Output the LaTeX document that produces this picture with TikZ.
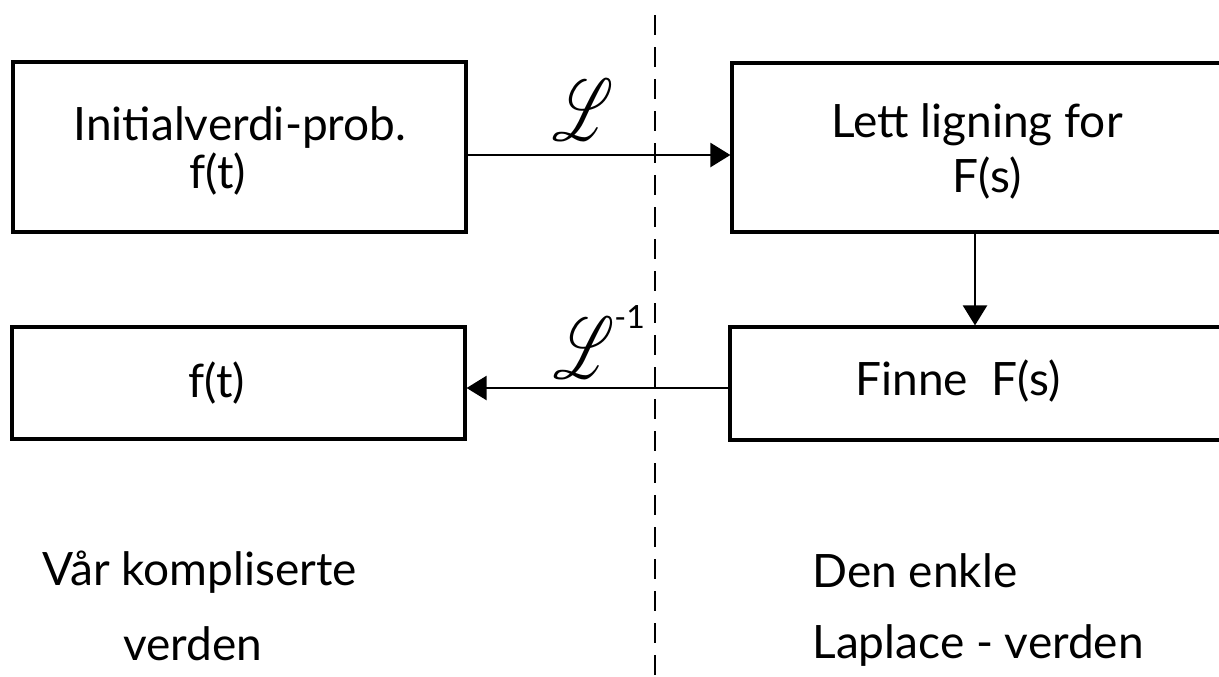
\documentclass[tikz,border=0pt]{standalone}
\usepackage{fontspec}
\setmainfont{Lato}
\usepackage{mathrsfs}
\usetikzlibrary{arrows.meta}
\newcommand{\bigL}{\scalebox{1.15}[1.75]{\fontsize{24.88}{28}\selectfont$\mathscr{L}$}}
\begin{document}
\begin{tikzpicture}[x=0.5pt,y=-0.5pt,
  box/.style={draw, line width=1.6pt, rectangle, inner sep=0pt},
  lbl/.style={anchor=base, inner sep=0pt, font=\fontsize{23}{28}\selectfont},
  lblw/.style={anchor=base west, inner sep=0pt, font=\fontsize{23}{28}\selectfont},
  op/.style={inner sep=0pt},
  conn/.style={line width=1.2pt, -{Triangle[length=10pt,width=12pt]}},
  divider/.style={line width=1.4pt, dash pattern=on 10pt off 6pt}]
\fill[white] (0,0) rectangle (1219,676);
\useasboundingbox (0,0) rectangle (1219,676);
% boxes
\node[box, minimum width=226.5pt, minimum height=85pt] (b1) at (239.5,147) {};
\node[box, minimum width=246pt, minimum height=84.5pt] (b2) at (978,147.5) {};
\node[box, minimum width=226.5pt, minimum height=56pt] (b3) at (238.5,383) {};
\node[box, minimum width=247pt, minimum height=56.5pt] (b4) at (977,383.5) {};
% box texts
\node[lbl] (t1a) at (240,140) {Initialverdi-prob.};
\node[lbl] (t1b) at (218,188) {f(t)};
\node[lbl] (t2a) at (977,137) {Lett ligning for};
\node[lbl] (t2b) at (987,192) {F(s)};
\node[lbl] (t3) at (217,397) {f(t)};
\node[lbl] (t4) at (958,395) {Finne\ \ F(s)};
% world captions
\node[lblw] (w1a) at (42,585) {Vår kompliserte};
\node[lblw] (w1b) at (123,660) {verden};
\node[lblw] (w2a) at (812,587) {Den enkle};
\node[lblw] (w2b) at (812,658) {Laplace - verden};
% divider
\coordinate (dtop) at (655,15);
\coordinate (dbot) at (655,676);
\draw[divider] (dtop) -- (dbot);
% connectors
\coordinate (ya) at (0,155);
\coordinate (yb) at (0,388);
\coordinate (xd) at (975,0);
\draw[conn] (b1.east |- ya) -- (b2.west |- ya);
\draw[conn] (b2.south -| xd) -- (b4.north -| xd);
\draw[conn] (b4.west |- yb) -- (b3.east |- yb);
% operator labels
\node[op] (L1) at (583,110) {\bigL};
\node[op, anchor=west] (L2) at (553,342) {\bigL\raisebox{25pt}{\fontsize{16}{16}\selectfont -1}};
\end{tikzpicture}
\end{document}
